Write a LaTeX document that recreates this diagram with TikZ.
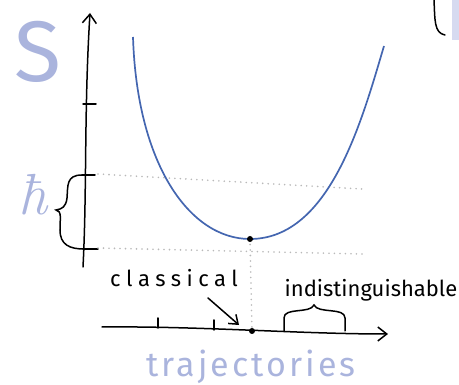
\documentclass[tikz,border=0pt]{standalone}
\usepackage{fontspec}
\setmainfont{Fira Sans}
\newfontfamily\spacedfont[LetterSpace=25]{Fira Sans}
\newfontfamily\widefont[LetterSpace=9]{Fira Sans}
\newfontfamily\lmfont{Latin Modern Roman}
\usetikzlibrary{arrows.meta,positioning}
\definecolor{curveblue}{RGB}{68,102,176}
\definecolor{labelblue}{RGB}{170,180,221}
\definecolor{tabblue}{RGB}{214,218,240}
\tikzset {
  >={Straight Barb[length=9pt,width=14pt]},
  every node/.style={font=\small},
  pen/.style={line width=1.5pt,line cap=round},
  guide/.style={gray!55,line width=1.8pt,dash pattern=on 0pt off 5.5pt,line cap=round},
}

\begin{document}
\begin{tikzpicture}[x=1pt,y=-1pt]
  \useasboundingbox (0,0) rectangle (459,385);
  \coordinate (ybot) at (83,267);
  \coordinate (ytop) at (90,13);
  \coordinate (xleft) at (102,327);
  \coordinate (xright) at (388,334);
  \coordinate (min) at (250,239);
  \coordinate (base) at (252,331);
  \coordinate (classtail) at (208,298);
  \coordinate (classtip) at (239,325);
  \draw[pen,->] (ybot) .. controls (87,190) and (84,110) .. (ytop);
  \draw[pen,->] (xleft) .. controls (200,326) and (300,334) .. (xright);
  \foreach \y/\a/\b in {104/83/96,175/82/95,249/83/98}
    \draw[pen] (\a,\y) -- (\b,\y);
  \foreach \x/\a in {158/318,214/320}
    \draw[pen] (\x,\a) -- (\x,\a+10);
  \draw[guide] (98,174) -- (362,189);
  \draw[guide] (98,248) -- (362,254);
  \draw[guide] (min) -- (base);
  \draw[curveblue,line width=1.7pt] (133,37) .. controls (137,165) and (190,239) .. (min)
    .. controls (330,239) and (362,120) .. (384,46);
  \fill (min) circle[radius=3pt];
  \fill (base) circle[radius=3pt];
  \draw[pen] (82,175) .. controls (66,175) and (68,186) .. (67,198)
    .. controls (66,207) and (62,209) .. (56,210)
    .. controls (62,211) and (60,218) .. (60,230)
    .. controls (60,245) and (70,249) .. (84,249);
  \draw[pen] (284,331) -- (284,318) .. controls (284,307) and (310,314) .. (314,305)
    .. controls (318,314) and (345,307) .. (345,318) -- (345,331);
  \draw[pen,-{Straight Barb[length=8pt,width=12pt]}] (classtail) -- (classtip);
  \node[anchor=base,labelblue,font=\fontsize{86}{86}\selectfont] (Slabel) at (38,82) {S};
  \node[anchor=base,labelblue,font=\lmfont\itshape\fontsize{58}{58}\selectfont] (hbarlabel) at (33,215) {ħ};
  \node[anchor=base,font=\spacedfont\fontsize{22}{26}\selectfont] (classical) at (174,287) {classical};
  \node[anchor=base,font=\fontsize{22}{26}\selectfont] (indist) at (371,297) {indistinguishable};
  \node[anchor=base,labelblue,font=\widefont\fontsize{34}{40}\selectfont] (traj) at (251,377) {trajectories};
  \draw[pen] (434,0) .. controls (435,20) and (434,33) .. (445,35);
  \fill[tabblue] (452,0) rectangle (459,40);
\end{tikzpicture}
\end{document}
